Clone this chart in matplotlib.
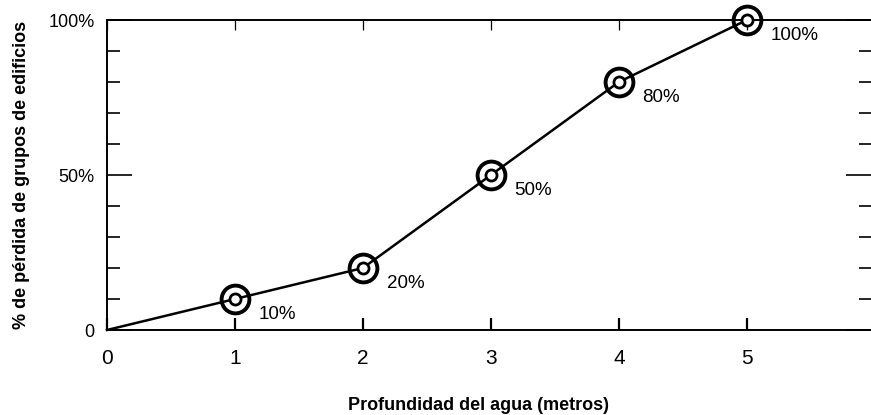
import matplotlib.pyplot as plt
from matplotlib.ticker import MultipleLocator

# profundidad del agua (m) y % de pérdida
profundidad = [0, 1, 2, 3, 4, 5]
perdida = [0, 10, 20, 50, 80, 100]
etiquetas = ['10%', '20%', '50%', '80%', '100%']
xticks = [0, 1, 2, 3, 4, 5]
yticks = [0, 50, 100]
yticklabels = ['0', '50%', '100%']

plt.rcParams['font.family'] = ['Liberation Sans', 'DejaVu Sans']

fig = plt.figure(figsize=(8.71, 4.15), dpi=100)
ax = fig.add_axes([0.1228, 0.2048, 0.8772, 0.747])

ax.plot(profundidad, perdida, c='k', lw=1.8, zorder=2, clip_on=False)
ax.plot(profundidad[1:], perdida[1:], ls='none', marker='o', ms=20,
        mfc='none', mec='k', mew=2.8, zorder=3, clip_on=False)
ax.plot(profundidad[1:], perdida[1:], ls='none', marker='o', ms=8,
        mfc='white', mec='k', mew=2, zorder=4, clip_on=False)

for x, y, t in zip(profundidad[1:], perdida[1:], etiquetas):
    ax.annotate(t, (x, y), xytext=(17, -11), textcoords='offset points',
                ha='left', va='center', fontsize=13.5)

ax.set_xlim(0, 5.97)
ax.set_ylim(0, 100)

ax.spines['right'].set_visible(False)
for s in ['left', 'bottom', 'top']:
    ax.spines[s].set_linewidth(1.4)

ax.set_xticks(xticks)
ax.set_xticklabels([str(v) for v in xticks], fontsize=15)
ax.set_yticks(yticks)
ax.set_yticklabels(yticklabels, fontsize=13)
ax.yaxis.set_minor_locator(MultipleLocator(10))
ax.tick_params(axis='x', which='major', direction='in', length=9, width=1.6,
               pad=14, top=True)
ax.tick_params(axis='y', which='major', direction='in', length=18, width=1.2,
               pad=9, right=True)
ax.tick_params(axis='y', which='minor', direction='in', length=9, width=1.2,
               right=True)
# marcas superiores finas
for tk in ax.xaxis.get_major_ticks():
    tk.tick2line.set_markeredgewidth(0.9)
    tk.tick2line.set_markersize(7)

ax.set_xlabel('Profundidad del agua (metros)', fontsize=13,
              fontweight='bold')
ax.xaxis.set_label_coords(0.486, -0.215)
ax.set_ylabel('% de pérdida de grupos de edificios', fontsize=13,
              fontweight='bold', labelpad=13)

fig.savefig('out.png', dpi=100)
